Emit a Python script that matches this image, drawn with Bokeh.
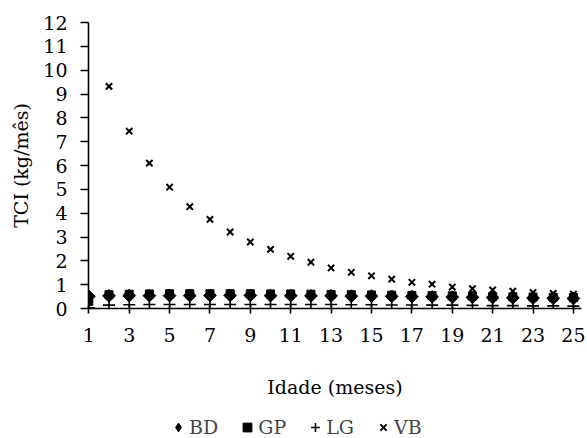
import math
from bokeh.plotting import figure
from bokeh.layouts import column
from bokeh.models import ColumnDataSource, FixedTicker, Legend, LegendItem, Range1d
from bokeh.embed import file_html
from bokeh.resources import INLINE

# ---- data ----
idade = list(range(1, 26))
bd = [0.51, 0.53, 0.54, 0.54, 0.54, 0.54, 0.55, 0.55, 0.55, 0.54, 0.54, 0.53, 0.53,
      0.52, 0.52, 0.51, 0.50, 0.49, 0.48, 0.47, 0.46, 0.45, 0.44, 0.43, 0.42]
gp = [0.30, 0.58, 0.60, 0.61, 0.62, 0.62, 0.62, 0.62, 0.62, 0.61, 0.61, 0.60, 0.59,
      0.58, 0.57, 0.56, 0.55, 0.54, 0.53, 0.52, 0.50, 0.49, 0.48, 0.47, 0.46]
lg = [0.03, 0.14, 0.16, 0.17, 0.17, 0.17, 0.17, 0.17, 0.17, 0.17, 0.17, 0.17, 0.17,
      0.16, 0.16, 0.15, 0.15, 0.14, 0.14, 0.13, 0.12, 0.12, 0.11, 0.11, 0.10]
vb = [float("nan"), 9.32, 7.44, 6.10, 5.09, 4.27, 3.74, 3.21, 2.79, 2.48, 2.19, 1.94, 1.70,
      1.52, 1.37, 1.23, 1.10, 1.02, 0.90, 0.83, 0.78, 0.73, 0.67, 0.63, 0.60]
series_names = ["BD", "GP", "LG", "VB"]
x_ticks = list(range(1, 26, 2))
y_ticks = list(range(0, 13))

FONT = "DejaVu Serif"
FS = "19px"

src = ColumnDataSource(dict(x=idade, bd=bd, gp=gp, lg=lg, vb=vb))

styles = {
    "bd": dict(marker="square", angle=math.pi / 4, size=9, fill_color="black", line_color="black"),
    "gp": dict(marker="square", size=8, fill_color="black", line_color="black"),
    "lg": dict(marker="cross", size=12, line_color="black", line_width=1.6),
    "vb": dict(marker="x", size=9, line_color="black", line_width=2),
}
legend_styles = dict(styles)
legend_styles["bd"] = dict(marker="diamond", size=12, fill_color="black", line_color="black")

p = figure(width=587, height=414, output_backend="svg", toolbar_location=None,
           x_range=Range1d(0.985, 25.40), y_range=Range1d(0, 12),
           min_border_left=88, min_border_right=6, min_border_top=22, min_border_bottom=106)
p.outline_line_color = None
p.xgrid.visible = False
p.ygrid.visible = False

for key in ["bd", "gp", "lg", "vb"]:
    p.scatter("x", key, source=src, **styles[key])

for ax in (p.xaxis[0], p.yaxis[0]):
    ax.axis_line_color = "black"
    ax.axis_line_width = 1.6
    ax.major_tick_line_color = "black"
    ax.major_tick_line_width = 1.6
    ax.minor_tick_line_color = None
    ax.major_label_text_font = FONT
    ax.major_label_text_font_size = FS
    ax.major_label_text_color = "black"
    ax.axis_label_text_font = FONT
    ax.axis_label_text_font_size = FS
    ax.axis_label_text_font_style = "normal"
    ax.axis_label_text_color = "black"

p.xaxis.ticker = FixedTicker(ticks=x_ticks)
p.xaxis.major_tick_in = 3
p.xaxis.major_tick_out = 5
p.xaxis.major_label_standoff = 14
p.xaxis.axis_label = "Idade (meses)"
p.xaxis.axis_label_standoff = 31

p.yaxis.ticker = FixedTicker(ticks=y_ticks)
p.yaxis.major_tick_in = 0
p.yaxis.major_tick_out = 8
p.yaxis.major_label_standoff = 13
p.yaxis.axis_label = "TCI (kg/mês)"
p.yaxis.axis_label_standoff = 8

# legend strip below the plot
p2 = figure(width=587, height=24, output_backend="svg", toolbar_location=None,
            x_range=Range1d(0, 1), y_range=Range1d(0, 1),
            x_axis_location=None, y_axis_location=None, min_border=0)
p2.outline_line_color = None
p2.xgrid.visible = False
p2.ygrid.visible = False
items = []
for key, name in zip(["bd", "gp", "lg", "vb"], series_names):
    r = p2.scatter("x", key, source=src, visible=False, **legend_styles[key])
    items.append(LegendItem(label=name, renderers=[r]))
legend = Legend(items=items, orientation="horizontal", location=(79, 0),
                label_text_font=FONT, label_text_font_size=FS,
                label_standoff=0, glyph_width=22, glyph_height=22,
                spacing=18, padding=0, margin=0,
                border_line_color=None, background_fill_alpha=0)
p2.add_layout(legend, "center")

layout = column(p, p2, spacing=0)
open("out.html", "w").write(file_html(layout, INLINE))
